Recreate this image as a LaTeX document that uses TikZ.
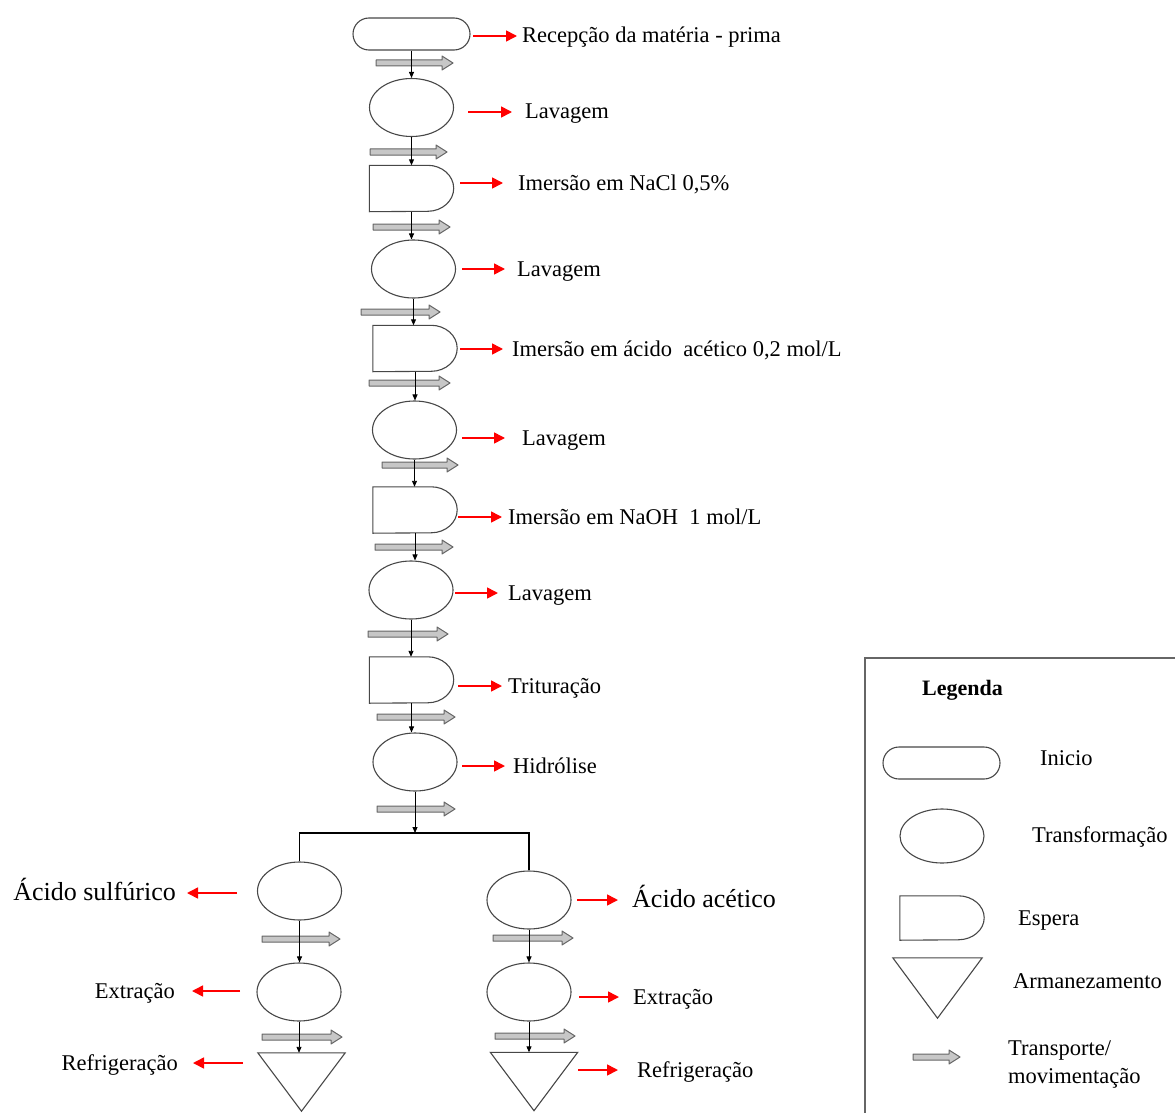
\documentclass[tikz,border=0pt]{standalone}
\usepackage{fontspec}
\setmainfont{Liberation Serif}
\usetikzlibrary{shapes.geometric,arrows.meta}
\tikzset{
 shp/.style={draw=black!72, line width=1.1pt},
 startbox/.style={shp, rectangle, rounded corners=16pt, minimum width=117pt, minimum height=32pt, inner sep=0pt},
 procbox/.style={shp, ellipse, minimum width=84pt, minimum height=58pt, inner sep=0pt},
 waitbox/.style={rectangle, minimum width=84pt, minimum height=46pt, inner sep=0pt},
 storebox/.style={rectangle, minimum width=87pt, minimum height=58pt, inner sep=0pt},
 lbl/.style={inner sep=0pt, font=\fontsize{22.5}{27}\selectfont},
 biglbl/.style={inner sep=0pt, font=\fontsize{26}{30}\selectfont},
 redarr/.style={draw=red, line width=1.6pt, -{Triangle[length=11pt,width=11pt]}},
 flow/.style={draw=black, line width=0.9pt, -{Triangle[length=6pt,width=5pt]}},
 tport/.style={draw=black!60, fill=black!22, line width=1pt, line join=round},
}
\newcommand\waitshape[2][23]{\draw[shp] (#2.north west) -- ([xshift=-26pt]#2.north east) arc[start angle=90,end angle=-90,x radius=26pt,y radius=#1 pt] -- (#2.south west) -- cycle;}
\newcommand\storeshape[1]{\draw[shp] (#1.north west) -- (#1.north east) -- (#1.south) -- cycle;}
\newcommand\tport[3]{\draw[tport] (#1,#3-3) -- (#2-11,#3-3) -- (#2-11,#3-7) -- (#2,#3) -- (#2-11,#3+7) -- (#2-11,#3+3) -- (#1,#3+3) -- cycle;}
% right-side label: [style] name, arrow start x, arrow end x, arrow y, text x, baseline offset, text
\newcommand\rlab[7][lbl]{%
 \node[#1, anchor=base west] (#2) at (#6,#5+7) {#7};
 \coordinate (#2a) at (#3,#5);
 \pgfmathsetmacro\gap{#6-#4}
 \draw[redarr, shorten >=\gap pt] (#2a) -- (#2a -| #2.west);}
\newcommand\llab[7][lbl]{%
 \node[#1, anchor=base east] (#2) at (#6,#5+7.5) {#7};
 \coordinate (#2a) at (#3,#5);
 \pgfmathsetmacro\gap{#4-#6}
 \draw[redarr, shorten >=\gap pt] (#2a) -- (#2a -| #2.east);}
\begin{document}
\begin{tikzpicture}[x=1pt,y=-1pt]
\useasboundingbox (0,0) rectangle (1175,1113);
% main column shapes
\node[startbox] (s1) at (411.5,34) {};
\node[procbox] (s2) at (411.5,107.5) {};
\node[waitbox] (s3) at (411.5,188.5) {};
\node[procbox] (s4) at (413.5,269) {};
\node[waitbox] (s5) at (415,348.5) {};
\node[procbox] (s6) at (414.5,430) {};
\node[waitbox] (s7) at (415,510) {};
\node[procbox] (s8) at (411,590) {};
\node[waitbox] (s9) at (411.5,680) {};
\node[procbox] (s10) at (415,762) {};
\coordinate (sp) at (415,833);
\node[procbox] (l1) at (299.5,891) {};
\node[procbox] (l2) at (299,992) {};
\node[storebox] (l3) at (301.5,1082) {};
\node[procbox] (r1) at (529,900) {};
\node[procbox] (r2) at (529,992) {};
\node[storebox] (r3) at (534,1081.5) {};
\foreach \n in {s3,s5,s7,s9} {\waitshape{\n}}
\storeshape{l3}
\storeshape{r3}
% transport arrows
\tport{376}{453}{63}
\tport{370}{447}{152}
\tport{373}{450}{227}
\tport{361}{440}{312}
\tport{369}{450}{383}
\tport{382}{458}{465}
\tport{375}{453}{547}
\tport{368}{448}{634}
\tport{377}{455}{717}
\tport{377}{455}{809}
\tport{262}{340}{939}
\tport{262}{342}{1037}
\tport{493}{573}{938}
\tport{495}{575}{1036}
% flow connectors
\foreach \a/\b in {s1/s2,s2/s3,s3/s4,s4/s5,s5/s6,s6/s7,s7/s8,s8/s9,s9/s10,l1/l2,l2/l3,r1/r2,r2/r3}
  {\draw[flow] (\a.south) -- (\a.south |- \b.north);}
\draw[flow] (s10.south) -- (sp);
\draw[line width=1.1pt] (l1.north) -- (l1.north |- sp) -- (r1.north |- sp) -- (r1.north);
% labels
\rlab{t1}{473}{517}{36}{522}{Recepção da matéria - prima}
\rlab{t2}{468}{512}{112}{525}{Lavagem}
\rlab{t3}{460}{503}{183}{518}{Imersão em NaCl 0,5\%}
\rlab{t4}{462}{505}{269}{517}{Lavagem}
\rlab{t5}{460}{503}{349}{512}{Imersão em ácido~~acético 0,2 mol/L}
\rlab{t6}{462}{505}{438}{522}{Lavagem}
\rlab{t7}{458}{502}{517}{508}{Imersão em NaOH~~1 mol/L}
\rlab{t8}{455}{498}{593}{508}{Lavagem}
\rlab{t9}{458}{502}{686}{508}{Trituração}
\rlab{t10}{462}{505}{766}{513}{Hidrólise}
\llab[biglbl]{u1}{237}{187}{893}{176}{Ácido sulfúrico}
\llab{u2}{240}{192}{991}{175}{Extração}
\llab{u3}{243}{193}{1063}{178}{Refrigeração}
\rlab[biglbl]{v1}{577}{618}{900}{632}{Ácido acético}
\rlab{v2}{579}{619}{997}{633}{Extração}
\rlab{v3}{578}{618}{1070}{637}{Refrigeração}
% legend
\draw[line width=1.6pt, draw=black!60] (1180,658) -- (865,658) -- (865,1120);
\node[inner sep=0pt, anchor=base west, font=\fontsize{22}{26}\selectfont\bfseries] (leg) at (922,695) {Legenda};
\node[startbox] (k1) at (941.5,763) {};
\node[lbl, anchor=base west] (k1t) at (1040,765) {Inicio};
\node[procbox, minimum height=54pt] (k2) at (942,836) {};
\node[lbl, anchor=base west] (k2t) at (1032,842) {Transformação};
\node[waitbox, minimum height=44pt] (k3) at (942,918) {};
\waitshape[22]{k3}
\node[lbl, anchor=base west] (k3t) at (1018,925) {Espera};
\node[storebox, minimum width=89pt, minimum height=60pt] (k4) at (937.5,988) {};
\storeshape{k4}
\node[lbl, anchor=base west] (k4t) at (1013,988) {Armanezamento};
\tport{913}{960}{1057}
\node[lbl, anchor=base west] (k5t) at (1008,1055) {Transporte/};
\node[lbl, anchor=base west] (k5u) at (1008,1083) {movimentação};
\end{tikzpicture}
\end{document}
